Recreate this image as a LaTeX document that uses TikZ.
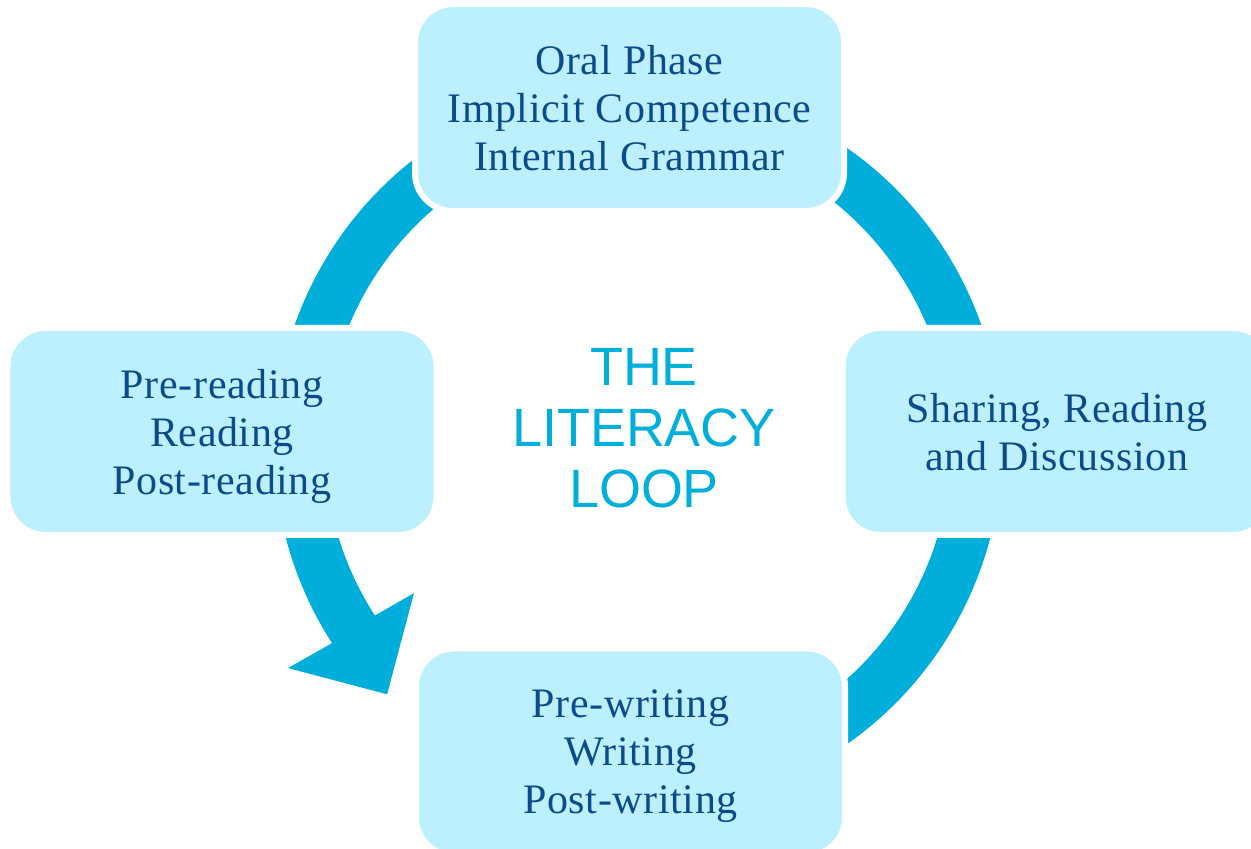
\documentclass[tikz,border=0pt]{standalone}
\usepackage{fontspec}
\usepackage{tikz}
\usetikzlibrary{calc}

\newfontfamily\boxserif[LetterSpace=1.5]{Liberation Serif}
\newfontfamily\loopsans{Liberation Sans}
\definecolor{loopblue}{HTML}{00AEDB}
\definecolor{boxcyan}{HTML}{BDF0FF}
\definecolor{boxtext}{HTML}{0B4A8B}

\begin{document}
\begin{tikzpicture}
            \tikzstyle{block} = [rectangle, draw=white, line width=0.12cm, fill=boxcyan, rounded corners=0.76cm, minimum width=8.58cm, minimum height=4.14cm, text depth=0pt, align=center, text=boxtext, font=\boxserif\fontsize{23.9}{27.3}\selectfont]
            \tikzstyle{heading} = [align=center, text=loopblue, font=\loopsans\fontsize{30.7}{34.7}\selectfont]
            \tikzstyle{ring} = [fill=loopblue]

            \useasboundingbox (0,0) rectangle (25.02,16.98);
            \clip (0,0) rectangle (25.02,16.98);

            \coordinate (hub) at (12.76,8.06);
            \fill [ring] ($(hub)+(-75:7.28)$) arc [start angle=-75, end angle=212.8, radius=7.28cm]
                -- ($(hub)+(212.4:8.29)$) -- ($(hub)+(224.7:7.06)$) -- ($(hub)+(213.3:5.36)$)
                -- ($(hub)+(212.8:6.26)$) arc [start angle=212.8, end angle=-75, radius=6.26cm] -- cycle;

            \node [block] (oral) at (12.59,14.83) {Oral Phase\\Implicit Competence\\Internal Grammar};
            \node [block] (share) at (21.14,8.35) {Sharing, Reading\\and Discussion};
            \node [block] (write) at (12.61,1.94) {Pre-writing\\Writing\\Post-writing};
            \node [block] (read) at (4.44,8.35) {Pre-reading\\Reading\\Post-reading};
            \node [heading] (loop) at (12.88,8.42) {THE\\LITERACY\\LOOP};
        \end{tikzpicture}
\end{document}
